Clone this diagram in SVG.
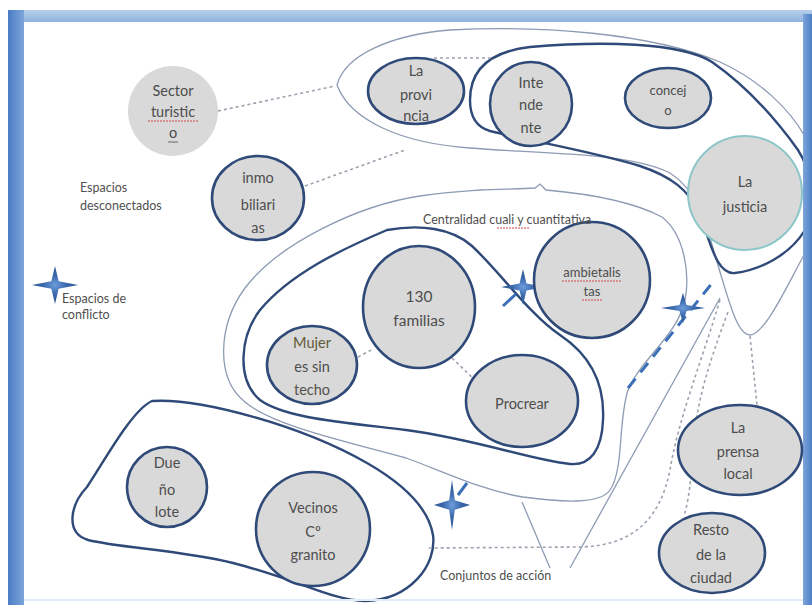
<svg xmlns="http://www.w3.org/2000/svg" width="812" height="605" viewBox="0 0 812 605">
<style>
.node{fill:#d9d9d9;stroke:#2f4a78;stroke-width:2.6}
.t{font-family:Lato,"Open Sans","Liberation Sans",sans-serif;font-size:14.5px;fill:#4d4d4d;text-anchor:middle}
.lbl{font-family:Lato,"Open Sans","Liberation Sans",sans-serif;font-size:12.5px;fill:#505050}
.thick{fill:none;stroke:#2f4a78;stroke-width:2.4}
.thin{fill:none;stroke:#8d9bb3;stroke-width:1.3}
.dash{fill:none;stroke:#9aa2ae;stroke-width:1.6;stroke-dasharray:3 3}
.spell{fill:none;stroke:#d04848;stroke-width:1;stroke-dasharray:2 1}
</style>
<defs>
<linearGradient id="topband" x1="0" y1="0" x2="0" y2="1"><stop offset="0" stop-color="#b7cfeb"/><stop offset="1" stop-color="#8fb2de"/></linearGradient>
<linearGradient id="leftband" x1="0" y1="0" x2="1" y2="0"><stop offset="0" stop-color="#4a7cc4"/><stop offset="1" stop-color="#7ea5da"/></linearGradient>
<linearGradient id="rightband" x1="0" y1="0" x2="1" y2="0"><stop offset="0" stop-color="#7ea5da"/><stop offset="1" stop-color="#4d7ec4"/></linearGradient>
<radialGradient id="stargrad" cx="0.5" cy="0.5" r="0.5"><stop offset="0" stop-color="#6d9ddc"/><stop offset="0.5" stop-color="#3a68aa"/><stop offset="1" stop-color="#2a5594"/></radialGradient>
<path id="star" d="M-22,0 L-3.5,-3.5 L0,-18 L3.5,-3.5 L22,0 L3.5,3.5 L0,18 L-3.5,3.5 Z" fill="url(#stargrad)"/>
</defs>
<rect x="0" y="0" width="812" height="605" fill="#ffffff"/>
<g id="contours">
<path id="contour-gobierno" class="thin" d="M337,85 C345,55 390,35 450,30 C540,25 650,33 720,62 C760,80 790,110 804,135 L804,255 C790,280 765,335 750,335 C738,335 730,305 720,272 C708,232 700,190 668,172 C625,152 540,154 470,148 C400,143 350,120 337,85 Z"/>
<path id="contour-ejecutivo" class="thick" d="M470,100 C470,72 487,52 530,47 C600,41 680,42 712,62 C745,85 775,118 798,150 C813,172 814,212 805,230 C790,255 760,270 735,273 C716,275 710,240 700,215 C690,190 670,176 640,166 C590,151 530,141 490,131 C476,127 470,115 470,100 Z"/>
<path id="contour-centralidad" class="thin" d="M480,190 C500,189 522,189 535,188 L540,184 L546,190 C580,193 630,200 662,217 C685,235 690,275 685,300 C678,335 640,360 628,390 C618,420 624,470 610,490 C600,505 560,502 523,497 C480,490 440,470 406,458 C340,440 272,425 245,402 C215,378 218,325 245,288 C280,242 360,205 420,196 C445,192 465,191 480,190 Z"/>
<path id="contour-nucleo" class="thick" d="M387,230 C420,224 452,228 472,246 C500,272 530,315 560,335 C590,355 605,382 603,420 C602,450 590,466 570,464 C530,460 480,440 406,430 C340,422 285,418 260,400 C236,380 240,336 260,310 C290,274 340,250 387,230 Z"/>
<path id="contour-vecinos" class="thick" d="M152,401 C200,398 300,425 367,463 C400,482 428,505 433,535 C437,565 410,600 365,601 C330,600 300,580 233,563 C180,550 120,548 88,540 C65,533 70,505 87,487 C105,460 132,410 152,401 Z"/>
</g>
<g id="frame">
<rect x="8" y="10" width="804" height="12" fill="url(#topband)"/>
<rect x="8" y="10" width="16" height="595" fill="url(#leftband)"/>
<rect x="803" y="14" width="9" height="591" fill="url(#rightband)"/>
<rect x="24" y="599" width="779" height="2" fill="#e2ecf7"/>
</g>
<g id="connectors">
<path class="dash" d="M218,111 L335,86"/>
<path class="dash" d="M305,186 L405,150"/>
<path class="dash" d="M434,58 L494,58"/>
<path class="dash" d="M358,357 L373,349"/>
<path class="dash" d="M452,358 L478,383"/>
<path class="dash" d="M720,300 C702,360 678,420 670,470 C660,520 632,546 580,547 L428,548"/>
<path class="dash" d="M728,312 C710,360 697,400 694,440 C691,480 689,500 684,516"/>
<path class="dash" d="M750,336 L757,405"/>
<path class="thin" d="M522,502 L550,568"/>
<path class="thin" d="M570,568 L720,298"/>
<path d="M628,388 L713,282" fill="none" stroke="#3b6fb8" stroke-width="3" stroke-dasharray="12 8"/>
<path d="M503,306 L516,294" stroke="#3b6fb8" stroke-width="3"/>
<path d="M458,495 L467,483" stroke="#3b6fb8" stroke-width="3"/>
</g>
<g id="conflicts">
<use href="#star" transform="translate(55,285) scale(1.05,1.05)"/>
<use href="#star" transform="translate(523,287)"/>
<use href="#star" transform="translate(683,308) scale(1,0.85)"/>
<use href="#star" transform="translate(452,505) scale(0.82,1.39)"/>
</g>
<g id="node-sector-turistico">
<circle cx="173" cy="111" r="45" fill="#d9d9d9"/>
<text class="t" x="173" y="96">Sector</text>
<text class="t" x="173" y="117">turistic</text>
<text class="t" x="173" y="138">o</text>
<path class="spell" d="M148,121 L198,121"/>
<path d="M168,142 L178,142" stroke="#666" stroke-width="1"/>
</g>
<g id="node-inmobiliarias">
<ellipse class="node" cx="258" cy="198" rx="46" ry="42"/>
<text class="t" x="258" y="183">inmo</text>
<text class="t" x="258" y="210">biliari</text>
<text class="t" x="258" y="233">as</text>
</g>
<g id="node-la-provincia">
<ellipse class="node" cx="416" cy="91" rx="48" ry="33"/>
<text class="t" x="416" y="76">La</text>
<text class="t" x="416" y="100">provi</text>
<text class="t" x="416" y="121">ncia</text>
</g>
<g id="node-intendente">
<ellipse class="node" cx="531" cy="104" rx="41" ry="42"/>
<text class="t" x="531" y="88">Inte</text>
<text class="t" x="531" y="110">nde</text>
<text class="t" x="531" y="133">nte</text>
</g>
<g id="node-concejo">
<ellipse class="node" cx="668" cy="98" rx="43" ry="30"/>
<text class="t" x="668" y="95" style="font-size:13px">concej</text>
<text class="t" x="668" y="115" style="font-size:13px">o</text>
</g>
<g id="node-la-justicia">
<circle cx="745" cy="193" r="57" fill="#d9d9d9" stroke="#8cc6c8" stroke-width="2"/>
<text class="t" x="745" y="187">La</text>
<text class="t" x="745" y="212">justicia</text>
</g>
<g id="node-ambientalistas">
<circle class="node" cx="592" cy="280" r="58"/>
<text class="t" x="592" y="277" style="font-size:13px">ambietalis</text>
<text class="t" x="592" y="296" style="font-size:13px">tas</text>
<path class="spell" d="M562,281 L622,281"/>
<path class="spell" d="M582,300 L602,300"/>
</g>
<g id="node-130-familias">
<ellipse class="node" cx="419" cy="307" rx="56" ry="61"/>
<text class="t" x="419" y="302" style="font-size:15.5px">130</text>
<text class="t" x="419" y="326" style="font-size:15.5px">familias</text>
</g>
<g id="node-mujeres">
<ellipse class="node" cx="312" cy="365" rx="45" ry="39"/>
<text class="t" x="312" y="348" style="fill:#5f5a38">Mujer</text>
<text class="t" x="312" y="372">es sin</text>
<text class="t" x="312" y="395" style="fill:#55524a">techo</text>
</g>
<g id="node-procrear">
<ellipse class="node" cx="522" cy="401" rx="56" ry="46"/>
<text class="t" x="522" y="409">Procrear</text>
</g>
<g id="node-la-prensa">
<ellipse class="node" cx="740" cy="450" rx="62" ry="45"/>
<text class="t" x="738" y="433">La</text>
<text class="t" x="738" y="457">prensa</text>
<text class="t" x="738" y="479">local</text>
</g>
<g id="node-resto-ciudad">
<ellipse class="node" cx="712" cy="553" rx="53" ry="40"/>
<text class="t" x="711" y="535">Resto</text>
<text class="t" x="711" y="560">de la</text>
<text class="t" x="711" y="583">ciudad</text>
</g>
<g id="node-dueno-lote">
<ellipse class="node" cx="167" cy="487" rx="40" ry="40"/>
<text class="t" x="167" y="468">Due</text>
<text class="t" x="167" y="495">ño</text>
<text class="t" x="167" y="517">lote</text>
</g>
<g id="node-vecinos">
<ellipse class="node" cx="313" cy="529" rx="57" ry="57"/>
<text class="t" x="313" y="513">Vecinos</text>
<text class="t" x="313" y="537">Cº</text>
<text class="t" x="313" y="560">granito</text>
</g>
<g id="labels">
<text class="lbl" x="80" y="192">Espacios</text>
<text class="lbl" x="80" y="210">desconectados</text>
<text class="lbl" x="62" y="303">Espacios de</text>
<text class="lbl" x="62" y="319">conflicto</text>
<text class="lbl" x="423" y="224">Centralidad cuali y cuantitativa</text>
<path class="spell" d="M497,228 L530,228"/>
<text class="lbl" x="440" y="580">Conjuntos de acción</text>
</g>
</svg>
